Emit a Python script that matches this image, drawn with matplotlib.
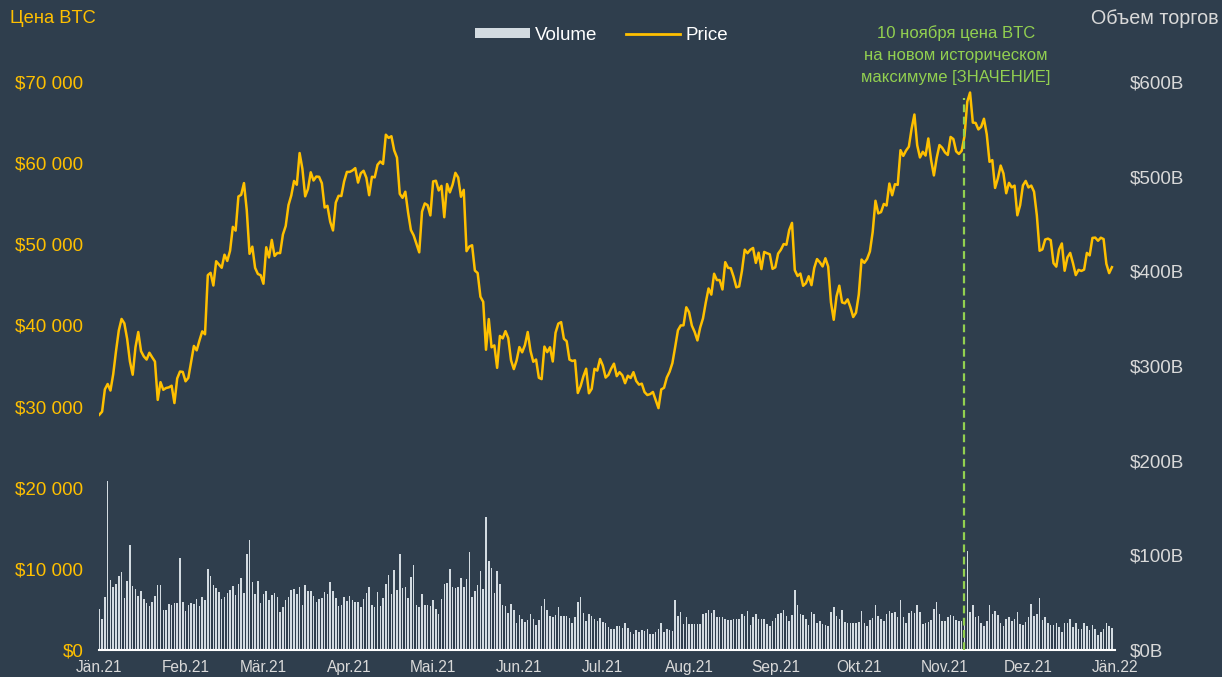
import numpy as np
import pandas as pd
import matplotlib
matplotlib.use('Agg')
import matplotlib.pyplot as plt
import matplotlib.dates as mdates
from matplotlib.ticker import FuncFormatter, MultipleLocator
from matplotlib.patches import Patch
from matplotlib.lines import Line2D

plt.rcParams['font.family'] = ['Liberation Sans', 'DejaVu Sans']

# даты: 1 янв 2021 - 31 дек 2021
dates = pd.date_range('2021-01-01', '2021-12-31', freq='D')

# цена BTC, $ (по месяцам)
price_jan = [28990, 29374, 32127, 32782, 31971, 33992, 36824, 39371, 40797, 40254, 38356, 35566, 33922, 37316, 39188, 36825,
             36178, 35791, 36630, 36069, 35547, 30825, 33005, 32067, 32289, 32366, 32569, 30432, 33466, 34316, 34269]
price_feb = [33114, 33537, 35510, 37472, 36926, 38144, 39266, 38903, 46196, 46481, 44918, 47909, 47504, 47105, 48717, 47945,
             49199, 52149, 51679, 55888, 56099, 57540, 54207, 48824, 49705, 47093, 46339, 46188]
price_mar = [45137, 49631, 48378, 50538, 48561, 48927, 48912, 51206, 52246, 54824, 56008, 57805, 57332, 61243, 59302, 55907,
             56804, 58870, 57858, 58346, 58313, 57523, 54529, 54738, 52774, 51704, 55137, 55974, 55947, 57750, 58918]
price_apr = [58918, 59095, 59384, 57603, 58758, 59057, 58192, 56048, 58323, 58245, 59793, 60204, 59893, 63503, 63109, 63314,
             61572, 60683, 56216, 55724, 56473, 53906, 51762, 51093, 50050, 49004, 54021, 55033, 54824, 53555]
price_may = [57750, 57828, 56631, 57200, 53333, 57424, 56397, 57356, 58803, 58232, 55859, 56704, 49150, 49716, 49880, 46760,
             46456, 43537, 42909, 37002, 40782, 37304, 37536, 34770, 38705, 38402, 39294, 38436, 35697, 34616, 35678]
price_jun = [37332, 36685, 37575, 39188, 36851, 35520, 35796, 33552, 33380, 37389, 36703, 37314, 35552, 39097, 40218, 40406,
             38347, 38053, 35788, 35615, 35698, 31676, 32505, 33723, 34662, 31637, 32186, 34649, 34434, 35867]
price_jul = [35040, 33572, 33897, 34668, 35287, 33746, 34235, 33855, 32877, 33798, 33520, 34240, 33155, 32702, 32822, 31780,
             31421, 31533, 31796, 30817, 29807, 32110, 32313, 33581, 34292, 35350, 37337, 39406, 39995, 40008, 42235]
price_aug = [41626, 39974, 39201, 38152, 39747, 40869, 42816, 44555, 43798, 46365, 45585, 45593, 44428, 47793, 47096, 47047,
             46004, 44695, 44802, 46717, 49339, 48905, 49321, 49546, 47706, 48960, 46942, 49058, 48897, 48767, 46970]
price_sep = [47166, 48847, 49327, 50026, 49944, 51753, 52633, 46812, 46091, 46391, 44883, 45201, 46063, 44963, 47092, 48176,
             47783, 47267, 48278, 47260, 42844, 40694, 43574, 44896, 42839, 42717, 43208, 42236, 41034, 41564]
price_oct = [43791, 48116, 47712, 48199, 49113, 51514, 55361, 53806, 53968, 54968, 54772, 57485, 56042, 57402, 57322, 61593,
             60892, 61553, 62027, 64262, 65993, 62211, 60693, 61393, 60931, 63039, 60364, 58483, 60622, 62228, 61889]
price_nov = [61319, 61005, 63226, 62970, 61453, 61126, 61528, 63327, 67566, 68700, 64995, 64950, 64155, 64470, 65466, 63557,
             60161, 60369, 56943, 58119, 59697, 58730, 56289, 57570, 57005, 57229, 53569, 54815, 57248, 57806]
price_dec = [57005, 57229, 56477, 53599, 49200, 49368, 50582, 50700, 50504, 47672, 47243, 49362, 50098, 46737, 48379, 48936,
             47667, 46202, 46848, 46707, 46880, 48937, 48628, 50784, 50822, 50429, 50809, 50640, 47588, 46444, 47178]

# объем торгов, млрд $
vol_q1 = [43, 33, 56, 178, 74, 67, 70, 78, 82, 55, 73, 111, 68, 64, 57, 62, 54, 50, 46, 51,
          57, 69, 69, 42, 42, 49, 48, 50, 50, 97, 51, 41, 48, 50, 49, 54, 46, 56, 53, 86,
          78, 69, 65, 61, 54, 56, 60, 63, 68, 58, 70, 76, 60, 101, 116, 72, 59, 73, 50, 59,
          62, 53, 58, 60, 56, 40, 45, 53, 56, 63, 64, 59, 67, 48, 69, 62, 62, 57, 51, 54,
          55, 61, 59, 72, 62, 55, 46, 48, 56, 52, 57, 53]
vol_q2 = [51, 51, 45, 54, 60, 67, 48, 45, 61, 46, 55, 70, 79, 59, 85, 63, 101, 65, 67, 55,
          77, 90, 48, 45, 59, 48, 47, 46, 53, 43, 38, 54, 70, 71, 86, 67, 66, 67, 76, 67,
          75, 103, 56, 62, 69, 83, 64, 140, 94, 87, 60, 83, 70, 48, 46, 39, 49, 42, 29, 37,
          33, 30, 32, 38, 33, 26, 32, 46, 54, 42, 36, 35, 37, 45, 36, 36, 36, 34, 28, 35,
          51, 56, 39, 31, 38, 36, 33, 31, 34, 30, 28, 24]
vol_q3 = [22, 22, 25, 25, 23, 28, 23, 19, 17, 21, 19, 21, 20, 22, 17, 17, 19, 22, 28, 19,
          22, 21, 20, 53, 36, 40, 27, 35, 27, 27, 27, 27, 27, 38, 39, 42, 39, 42, 35, 35,
          35, 33, 32, 32, 33, 33, 33, 38, 36, 41, 26, 35, 38, 33, 33, 33, 27, 25, 31, 34,
          38, 39, 42, 36, 31, 37, 63, 48, 38, 37, 33, 26, 40, 38, 29, 31, 27, 26, 25, 40,
          45, 36, 33, 42, 30, 29, 29, 29, 29, 30]
vol_q4 = [41, 28, 25, 32, 34, 48, 36, 33, 31, 38, 41, 39, 40, 35, 53, 35, 28, 39, 41, 39,
          48, 40, 27, 29, 30, 32, 43, 51, 38, 31, 31, 35, 37, 36, 32, 31, 31, 31, 105, 40,
          48, 35, 36, 29, 25, 31, 48, 38, 41, 37, 28, 25, 33, 35, 31, 33, 40, 27, 26, 30,
          35, 49, 36, 38, 55, 32, 35, 29, 26, 26, 28, 24, 19, 28, 29, 33, 24, 29, 22, 22,
          28, 25, 21, 26, 22, 16, 19, 22, 28, 25, 23]

month_labels = ['Jän.21', 'Feb.21', 'Mär.21', 'Apr.21', 'Mai.21', 'Jun.21', 'Jul.21',
                'Aug.21', 'Sep.21', 'Okt.21', 'Nov.21', 'Dez.21', 'Jän.22']

price = (price_jan + price_feb + price_mar + price_apr + price_may + price_jun +
         price_jul + price_aug + price_sep + price_oct + price_nov + price_dec)
volume = vol_q1 + vol_q2 + vol_q3 + vol_q4

bg = '#2f3e4d'
gold = '#ffc000'
green = '#92d050'
light = '#d9d9d9'

fig = plt.figure(figsize=(12.22, 6.77), dpi=100, facecolor=bg)
ax = fig.add_axes([0.0807, 0.0399, 0.8315, 0.839])
ax2 = ax.twinx()

# объем - столбцы (правая ось)
ax2.bar(dates, volume, width=0.55, color='#d3dbe1', zorder=2)
ax2.set_ylim(0, 600)

# цена - линия (левая ось)
ax.plot(dates, price, color=gold, lw=1.8, zorder=3)
ax.set_ylim(0, 70000)
ax.set_zorder(ax2.get_zorder() + 1)
ax.patch.set_visible(False)
ax2.patch.set_facecolor(bg)

ax.set_xlim(pd.Timestamp('2020-12-31 18:00'), pd.Timestamp('2022-01-01'))

# отметка 10 ноября
x_mark = pd.Timestamp('2021-11-08')
ax.axvline(x_mark, ymin=0, ymax=0.972, color=green, lw=1.6, linestyle=(0, (3.5, 2)), zorder=4)
ax.text(pd.Timestamp('2021-11-05'), 1.0475, '10 ноября цена BTC\nна новом историческом\nмаксимуме [ЗНАЧЕНИЕ]',
        transform=ax.get_xaxis_transform(), ha='center', va='center', color=green,
        fontsize=12, linespacing=1.55, clip_on=False)

# оси
ax.yaxis.set_major_locator(MultipleLocator(10000))
ax.yaxis.set_major_formatter(FuncFormatter(lambda v, p: '$' + f'{v:,.0f}'.replace(',', ' ')))
ax2.yaxis.set_major_locator(MultipleLocator(100))
ax2.yaxis.set_major_formatter(FuncFormatter(lambda v, p: f'${v:.0f}B'))

ticks = pd.date_range('2021-01-01', '2022-01-01', freq='MS')
ax.set_xticks(ticks)
ax.set_xticklabels(month_labels)

ax.tick_params(axis='y', length=0, pad=11, labelcolor=gold, labelsize=13.5)
ax2.tick_params(axis='y', length=0, pad=11, labelcolor=light, labelsize=13.5)
ax.tick_params(axis='x', length=0, pad=7, labelcolor=light, labelsize=11.2)

for a in (ax, ax2):
    for s in a.spines.values():
        s.set_visible(False)
ax.spines['bottom'].set_visible(True)
ax.spines['bottom'].set_color('white')
ax.spines['bottom'].set_linewidth(1.5)

# подписи осей
fig.text(0.008, 0.973, 'Цена BTC', color=gold, fontsize=13.2, ha='left', va='center')
fig.text(0.997, 0.973, 'Объем торгов', color=light, fontsize=14.2, ha='right', va='center')

handles = [Patch(facecolor='#d3dbe1', edgecolor='none'), Line2D([], [], color=gold, lw=2)]
leg = fig.legend(handles, ['Volume', 'Price'], loc='center', bbox_to_anchor=(0.4926, 0.948), ncol=2,
                 frameon=False, fontsize=13.5, handlelength=2.9, handleheight=0.45, columnspacing=1.5,
                 handletextpad=0.3)
for t in leg.get_texts():
    t.set_color('white')

fig.savefig('out.png', dpi=100, facecolor=bg)
